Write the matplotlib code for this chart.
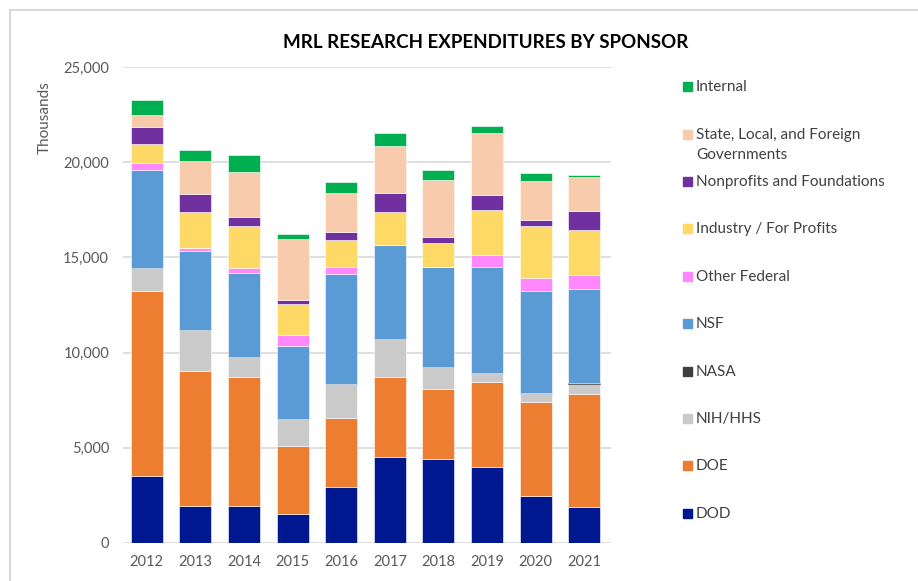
import numpy as np
import matplotlib.pyplot as plt
from matplotlib.patches import Rectangle

plt.rcParams['font.family'] = ['Lato', 'DejaVu Sans']

# wartości w tysiącach USD
years = ['2012', '2013', '2014', '2015', '2016', '2017', '2018', '2019', '2020', '2021']
dod = [3520, 1950, 1950, 1500, 2940, 4490, 4380, 3980, 2480, 1870]
doe = [9730, 7080, 6750, 3590, 3610, 4240, 3700, 4470, 4910, 5930]
nih = [1180, 2130, 1070, 1420, 1780, 1960, 1180, 490, 460, 560]
nasa = [0, 0, 0, 0, 0, 0, 0, 0, 0, 60]
nsf = [5160, 4200, 4430, 3860, 5800, 4990, 5260, 5580, 5400, 4940]
other_fed = [390, 160, 230, 560, 390, 0, 0, 600, 670, 740]
industry = [980, 1850, 2200, 1640, 1390, 1690, 1230, 2390, 2760, 2340]
nonprofit = [880, 970, 510, 210, 440, 1030, 320, 800, 270, 1020]
state = [650, 1740, 2380, 3190, 2050, 2480, 3010, 3220, 2060, 1780]
internal = [810, 560, 880, 240, 580, 650, 530, 370, 420, 120]

series = [
    ('DOD', dod, '#00188F'),
    ('DOE', doe, '#ED7D31'),
    ('NIH/HHS', nih, '#CACACA'),
    ('NASA', nasa, '#404040'),
    ('NSF', nsf, '#5B9BD5'),
    ('Other Federal', other_fed, '#FF88FF'),
    ('Industry / For Profits', industry, '#FFD966'),
    ('Nonprofits and Foundations', nonprofit, '#7030A0'),
    ('State, Local, and Foreign\nGovernments', state, '#F8CBAD'),
    ('Internal', internal, '#00B050'),
]

W, H = 918, 581
fig = plt.figure(figsize=(W / 100, H / 100), dpi=100)
ax = fig.add_axes([123 / W, 1 - 542.7 / H, 488 / W, 475.4 / H])

x = np.arange(len(years))
bottom = np.zeros(len(years))
for name, vals, col in series:
    edge = col if name == 'NASA' else 'white'
    ax.bar(x, vals, 0.66, bottom=bottom, color=col, edgecolor=edge, linewidth=0.4, zorder=3)
    bottom += np.array(vals)

ax.set_ylim(0, 25000)
ax.set_xlim(-0.49, 9.55)
ax.set_yticks(np.arange(0, 25001, 5000))
ax.yaxis.set_major_formatter(plt.FuncFormatter(lambda v, p: f'{int(v):,}'))
ax.set_xticks(x)
ax.set_xticklabels(years)
ax.tick_params(length=0, labelsize=10.5, colors='#595959')
ax.tick_params(axis='y', pad=10)
ax.tick_params(axis='x', pad=9)
ax.grid(axis='y', color='#D9D9D9', linewidth=1.2, zorder=0)
for s in ax.spines.values():
    s.set_visible(False)

fig.text(45 / W, 1 - 118 / H, 'Thousands', rotation=90, ha='center', va='center',
         fontsize=11, color='#595959')
fig.text(486 / W, 1 - 42 / H, 'MRL RESEARCH EXPENDITURES BY SPONSOR', ha='center',
         va='center', fontsize=13.5, fontweight='bold', color='black')

# legenda rysowana ręcznie (od góry: Internal ... DOD)
for i, (name, vals, col) in enumerate(series[::-1]):
    yc = 86.7 + i * 47.4
    fig.patches.append(Rectangle((683 / W, 1 - (yc + 4.5) / H), 9 / W, 9 / H,
                                 transform=fig.transFigure, color=col))
    for k, line in enumerate(name.split('\n')):
        fig.text(696 / W, 1 - (yc + 0.5 + k * 20) / H, line, ha='left', va='center',
                 fontsize=11, color='#404040')

# ramka wokół wykresu
fig.patches.append(Rectangle((10 / W, -0.1), 1.2, 1.1 - 10 / H, transform=fig.transFigure,
                             fill=False, edgecolor='#D9D9D9', linewidth=1.5))

fig.savefig('out.png', dpi=100)
